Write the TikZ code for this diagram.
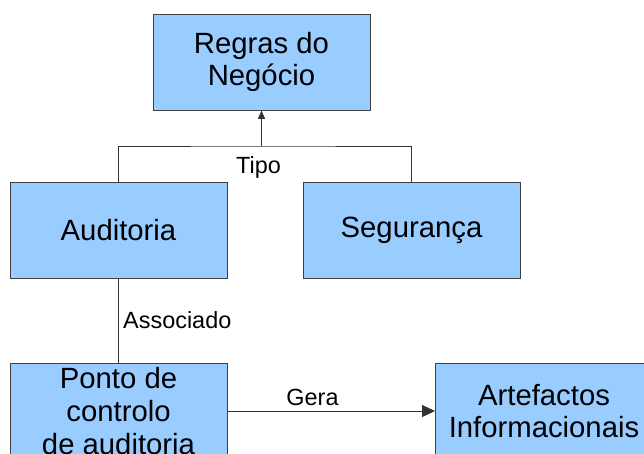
\documentclass[tikz,border=0pt]{standalone}
\usepackage{fontspec}
\setmainfont{Liberation Sans}
\usepackage{xcolor}
\definecolor{boxblue}{HTML}{99CCFF}
\usetikzlibrary{arrows.meta}

\begin{document}
\begin{tikzpicture}[x=0.03cm, y=-0.03cm,
    blockbox/.style={draw=black!75, fill=boxblue, line width=0.8pt, rectangle,
      minimum width=6.51cm, minimum height=2.88cm, inner sep=2pt, align=center,
      font=\fontsize{25}{28}\selectfont},
    lbl/.style={inner sep=0pt, font=\fontsize{20}{24}\selectfont},
    link/.style={draw=black!80, line width=0.8pt}]
    % area visibile
    \clip (0,0) rectangle (644,454);
    % blocchi
    \node[blockbox] (regras) at (261.5,62) {Regras do\\Negócio};
    \node[blockbox] (auditoria) at (118.5,230) {Auditoria};
    \node[blockbox] (seguranca) at (411.5,230.5) {Segurança};
    \node[blockbox] (ponto) at (118.5,411) {Ponto de\\controlo\\de auditoria};
    \node[blockbox] (artefactos) at (544,411) {Artefactos\\Informacionais};
    % collegamenti
    \coordinate (join) at (regras.south |- 0,146);
    \draw[link] (auditoria.north) |- (join) -| (seguranca.north);
    \draw[link, -{Triangle[length=0.25cm, width=0.21cm]}] (join) -- (regras.south);
    \node[lbl, anchor=base] (tipo) at (258.5,173) {Tipo};
    \draw[link] (auditoria.south) -- (ponto.north);
    \node[lbl, anchor=base west] (associado) at (123,328) {Associado};
    \draw[link, -{Triangle[length=0.39cm, width=0.36cm]}] (ponto.east) -- (artefactos.west);
    \node[lbl, anchor=base] (gera) at (312.5,405) {Gera};
\end{tikzpicture}
\end{document}
